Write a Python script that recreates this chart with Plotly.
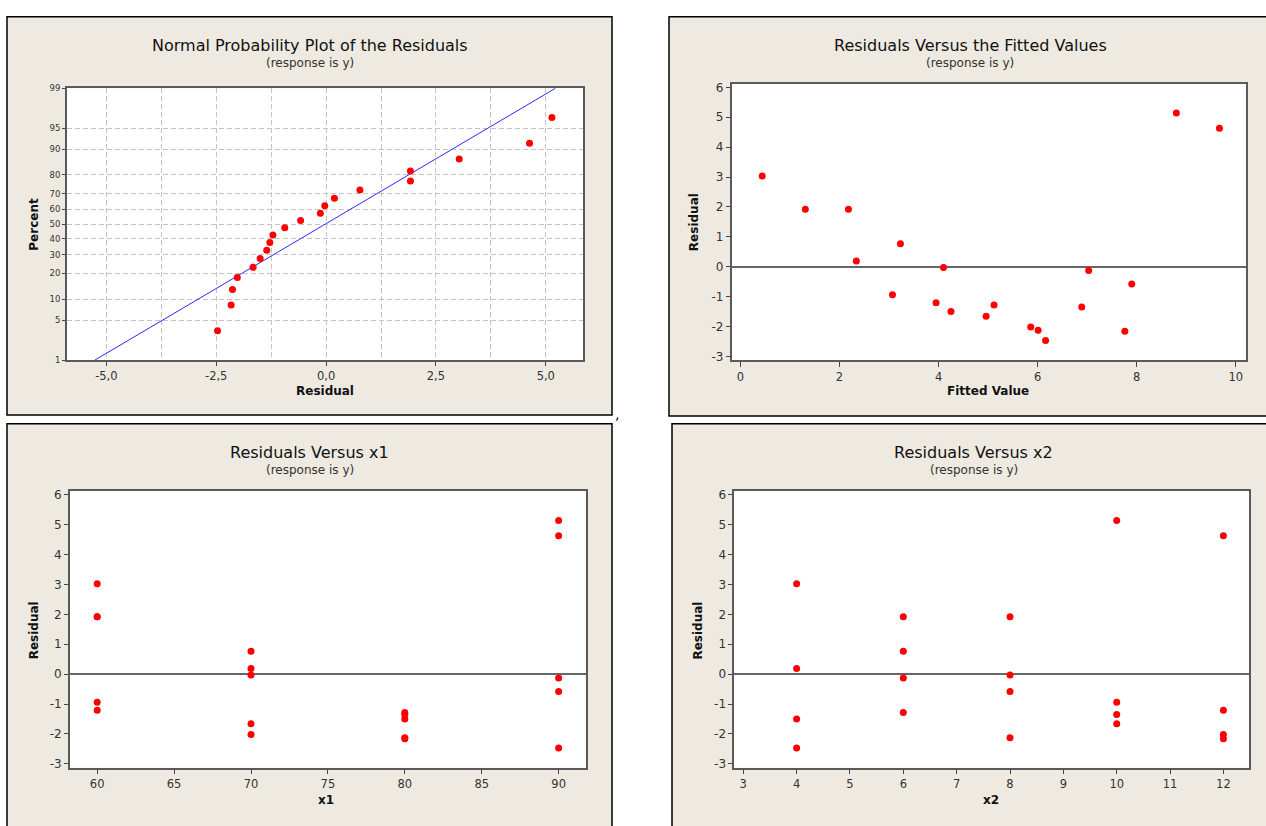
import plotly.graph_objects as go
from statistics import NormalDist

# ---------------- data ----------------
x1 = [60, 60, 60, 60, 60, 70, 70, 70, 70, 70, 80, 80, 80, 80, 80, 90, 90, 90, 90, 90]
x2 = [4, 6, 8, 10, 12, 4, 6, 8, 10, 12, 4, 6, 8, 10, 12, 4, 6, 8, 10, 12]
fitted = [0.44, 1.31, 2.18, 3.07, 3.95, 2.34, 3.23, 4.10, 4.96, 5.86,
          4.25, 5.12, 6.01, 6.89, 7.76, 6.16, 7.03, 7.90, 8.80, 9.67]
residual = [3.03, 1.92, 1.92, -0.94, -1.21, 0.19, 0.77, -0.03, -1.66, -2.02,
            -1.50, -1.28, -2.13, -1.35, -2.16, -2.47, -0.13, -0.58, 5.14, 4.63]

npp_residual = [-2.47, -2.16, -2.13, -2.02, -1.66, -1.50, -1.35, -1.28, -1.21, -0.94,
                -0.58, -0.13, -0.03, 0.19, 0.77, 1.92, 1.92, 3.03, 4.63, 5.14]
npp_percent = [3.4, 8.3, 13.2, 18.1, 23.0, 27.9, 32.8, 37.7, 42.6, 47.5,
               52.5, 57.4, 62.3, 67.2, 72.1, 77.0, 81.9, 86.8, 91.7, 96.6]
npp_line_x = [-5.26, 5.22]
npp_line_pct = [1, 99]

pct_ticks = [1, 5, 10, 20, 30, 40, 50, 60, 70, 80, 90, 95, 99]
npp_xticks = [-5, -2.5, 0, 2.5, 5]
npp_xticktext = ["-5,0", "-2,5", "0,0", "2,5", "5,0"]
npp_xminor = [-3.75, -1.25, 1.25, 3.75]
res_ticks = [-3, -2, -1, 0, 1, 2, 3, 4, 5, 6]
res_ticktext = ["-3", "-2", "-1", "0", "1", "2", "3", "4", "5", "6"]
fit_ticks = [0, 2, 4, 6, 8, 10]
x1_ticks = [60, 65, 70, 75, 80, 85, 90]
x2_ticks = [3, 4, 5, 6, 7, 8, 9, 10, 11, 12]

titles = ["Normal Probability Plot of the Residuals", "Residuals Versus the Fitted Values",
          "Residuals Versus x1", "Residuals Versus x2"]
subtitle = "(response is y)"

# ---------------- geometry helpers ----------------
W, H = 1266, 826
FONT = "DejaVu Sans"
BEIGE = "#EEEAE1"


def px(x):
    return x / W


def py(y):
    return 1 - y / H


nd = NormalDist()


def probit(p):
    return nd.inv_cdf(p / 100.0)


fig = go.Figure()

# normal probability plot
fig.add_trace(go.Scatter(x=npp_line_x, y=[probit(p) for p in npp_line_pct], mode="lines",
                         line=dict(color="#2a2aff", width=1), xaxis="x", yaxis="y",
                         showlegend=False, hoverinfo="skip"))
fig.add_trace(go.Scatter(x=npp_residual, y=[probit(p) for p in npp_percent], mode="markers",
                         marker=dict(color="#ff0000", size=7), xaxis="x", yaxis="y",
                         showlegend=False))
# residuals vs fitted
fig.add_trace(go.Scatter(x=fitted, y=residual, mode="markers",
                         marker=dict(color="#ff0000", size=7), xaxis="x2", yaxis="y2",
                         showlegend=False))
# residuals vs x1
fig.add_trace(go.Scatter(x=x1, y=residual, mode="markers",
                         marker=dict(color="#ff0000", size=7), xaxis="x3", yaxis="y3",
                         showlegend=False))
# residuals vs x2
fig.add_trace(go.Scatter(x=x2, y=residual, mode="markers",
                         marker=dict(color="#ff0000", size=7), xaxis="x4", yaxis="y4",
                         showlegend=False))

# plot-area boxes (px): left, top, right, bottom
boxes = [(66.8, 84.3, 583.4, 359.4), (731.5, 80, 1245.7, 359.3),
         (69.8, 491.7, 585.7, 772), (734.2, 491.7, 1249, 772)]
panels = [(7, 12, 612, 415), (669, 12, 1272, 416), (7, 424, 612, 832), (672, 424, 1272, 832)]

axis_common = dict(showline=True, linecolor="#5a5a5a", linewidth=1.5, mirror=True,
                   ticks="outside", ticklen=4, tickwidth=1, tickcolor="#444",
                   zeroline=False, showgrid=False,
                   tickfont=dict(family=FONT, size=11.5, color="#333"))

grid = dict(showgrid=True, gridcolor="#c4c4c4", gridwidth=1, griddash="5px,3px")

layout = dict(width=W, height=H, margin=dict(l=0, r=0, t=0, b=0), autosize=False,
              paper_bgcolor="white", plot_bgcolor="rgba(0,0,0,0)", showlegend=False)


def dom(b):
    return [px(b[0]), px(b[2])], [py(b[3]), py(b[1])]


# TL
dx, dy = dom(boxes[0])
layout["xaxis"] = dict(axis_common, domain=dx, anchor="y", range=[-5.90, 5.856],
                       tickvals=npp_xticks, ticktext=npp_xticktext, **grid,
                       minor=dict(tickvals=npp_xminor, showgrid=True, gridcolor="#c4c4c4",
                                  griddash="5px,3px", ticks=""))
layout["yaxis"] = dict(axis_common, domain=dy, anchor="x",
                       range=[probit(1), probit(99)],
                       tickvals=[probit(p) for p in pct_ticks],
                       ticktext=[str(p) for p in pct_ticks], ticklen=3,
                       tickfont=dict(family=FONT, size=8.5, color="#333"), **grid)
# TR
dx, dy = dom(boxes[1])
layout["xaxis2"] = dict(axis_common, domain=dx, anchor="y2", range=[-0.18, 10.2],
                        tickvals=fit_ticks, ticklen=5)
layout["yaxis2"] = dict(axis_common, domain=dy, anchor="x2", range=[-3.12, 6.11],
                        tickvals=res_ticks, ticktext=res_ticktext,
                        zeroline=True, zerolinecolor="#666", zerolinewidth=1.5,
                        tickfont=dict(family=FONT, size=12, color="#333"))
# BL
dx, dy = dom(boxes[2])
layout["xaxis3"] = dict(axis_common, domain=dx, anchor="y3", range=[58.22, 91.76],
                        tickvals=x1_ticks, ticklen=5)
layout["yaxis3"] = dict(axis_common, domain=dy, anchor="x3", range=[-3.13, 6.14],
                        tickvals=res_ticks, ticktext=res_ticktext,
                        zeroline=True, zerolinecolor="#666", zerolinewidth=1.5,
                        tickfont=dict(family=FONT, size=12, color="#333"))
# BR
dx, dy = dom(boxes[3])
layout["xaxis4"] = dict(axis_common, domain=dx, anchor="y4", range=[2.83, 12.48],
                        tickvals=x2_ticks, ticklen=5)
layout["yaxis4"] = dict(axis_common, domain=dy, anchor="x4", range=[-3.13, 6.14],
                        tickvals=res_ticks, ticktext=res_ticktext,
                        zeroline=True, zerolinecolor="#666", zerolinewidth=1.5,
                        tickfont=dict(family=FONT, size=12, color="#333"))

fig.update_layout(**layout)

# panels and white plot areas
shapes = []
for (l, t, r, b) in panels:
    shapes.append(dict(type="rect", xref="paper", yref="paper", x0=px(l), x1=px(r),
                       y0=py(b), y1=py(t), fillcolor=BEIGE,
                       line=dict(color="black", width=1.5), layer="below"))
for i, (l, t, r, b) in enumerate(boxes):
    shapes.append(dict(type="rect", xref="paper", yref="paper", x0=px(l), x1=px(r),
                       y0=py(b), y1=py(t), fillcolor="white",
                       line=dict(width=0), layer="below"))
fig.update_layout(shapes=shapes)

ann = []
title_pos = [(309.5, 40.7, 58.8), (970.4, 40.7, 58.8), (309.5, 453.3, 471.0), (973.9, 453.3, 471.0)]
for t, (cx, ty, sy) in zip(titles, title_pos):
    ann.append(dict(text=t, x=px(cx), y=py(ty), xref="paper", yref="paper", showarrow=False,
                    xanchor="center", yanchor="middle",
                    font=dict(family=FONT, size=16, color="#111")))
    ann.append(dict(text=subtitle, x=px(cx), y=py(sy), xref="paper", yref="paper",
                    showarrow=False, xanchor="center", yanchor="middle",
                    font=dict(family=FONT, size=12, color="#333")))

xtitles = [("Residual", 325, 390.7), ("Fitted Value", 987.8, 390.7), ("x1", 326, 804.3), ("x2", 990.5, 804.3)]
for t, cx, cy in xtitles:
    ann.append(dict(text="<b>%s</b>" % t, x=px(cx), y=py(cy), xref="paper", yref="paper",
                    showarrow=False, xanchor="center", yanchor="middle",
                    font=dict(family=FONT, size=12, color="#111")))
ytitles = [("Percent", 33.7, 221.7), ("Residual", 694.8, 220), ("Residual", 33.7, 633.3), ("Residual", 697.9, 633.3)]
for t, cx, cy in ytitles:
    ann.append(dict(text="<b>%s</b>" % t, x=px(cx), y=py(cy), xref="paper", yref="paper",
                    showarrow=False, xanchor="center", yanchor="middle", textangle=-90,
                    font=dict(family=FONT, size=12, color="#111")))
# stray comma between panels in the original picture
ann.append(dict(text=",", x=px(617), y=py(414), xref="paper", yref="paper", showarrow=False,
                xanchor="center", yanchor="middle", font=dict(family=FONT, size=14, color="#111")))
fig.update_layout(annotations=ann)

fig.write_html("out.html", config={"displayModeBar": False},
               post_script="document.body.style.margin='0px';document.body.style.overflow='hidden';")
